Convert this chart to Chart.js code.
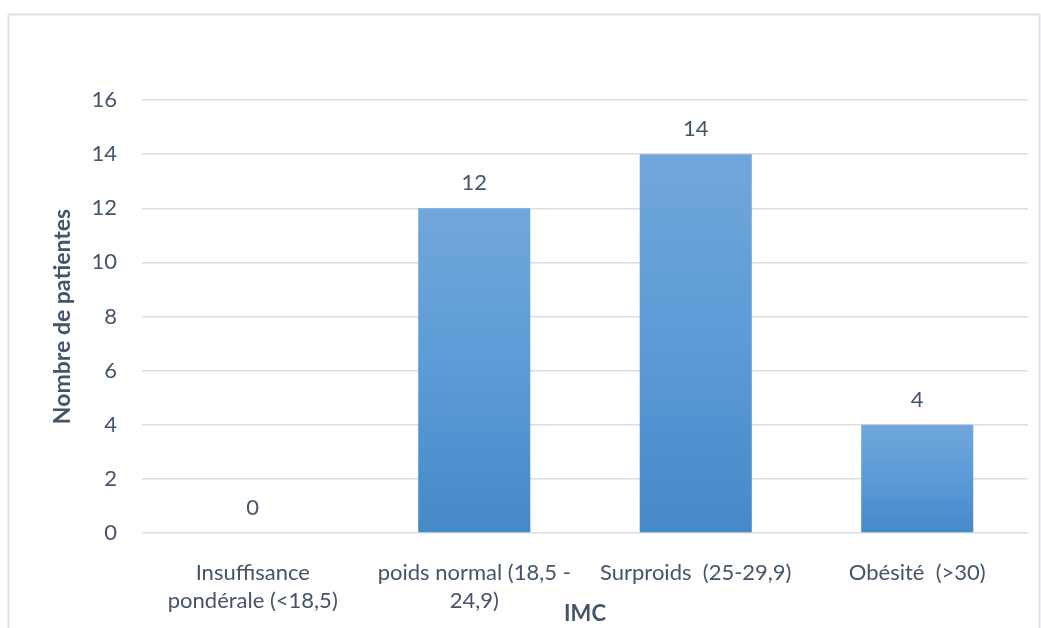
<!DOCTYPE html>
<html lang="fr">
<head>
<meta charset="utf-8">
<title>Nombre de patientes selon l'IMC</title>
<script src="https://cdn.jsdelivr.net/npm/chart.js@4/dist/chart.umd.min.js"></script>
<style>
  html, body { margin: 0; padding: 0; background: #ffffff; }
  #wrap { position: relative; width: 1041px; height: 628px; }
</style>
</head>
<body>
<div id="wrap"><canvas id="chart" width="1041" height="628"></canvas></div>
<script>
// IMC categories and number of patients in each
const categories = [
  ["Insuffisance", "pondérale (<18,5)"],
  ["poids normal (18,5 -", "24,9)"],
  ["Surproids  (25-29,9)"],
  ["Obésité  (>30)"]
];
const patients = [0, 12, 14, 4];
const yTicks = [0, 2, 4, 6, 8, 10, 12, 14, 16];

const textColor = '#44546a';
const gridColor = '#d9dee6';
const fontFamily = 'Lato, "Open Sans", sans-serif';

// Vertical gradient per bar: lighter at the top, darker at the base
function barGradient(ctx) {
  const chart = ctx.chart;
  const area = chart.chartArea;
  if (!area || ctx.type !== 'data') return '#5b9bd5';
  const y = chart.scales.y;
  const top = y.getPixelForValue(ctx.raw);
  const base = y.getPixelForValue(0);
  if (base - top < 1) return '#5b9bd5';
  const g = chart.ctx.createLinearGradient(0, top, 0, base);
  g.addColorStop(0, '#71a7db');
  g.addColorStop(0.5, '#5b9bd7');
  g.addColorStop(1, '#4589c8');
  return g;
}

// Outer frame around the chart
const framePlugin = {
  id: 'frame',
  beforeDraw(chart) {
    const c = chart.ctx;
    c.save();
    c.fillStyle = '#ffffff';
    c.fillRect(0, 0, chart.width, chart.height);
    c.strokeStyle = '#dde2ea';
    c.lineWidth = 2;
    c.strokeRect(8.5, 14.5, 1031, 700);
    c.restore();
  }
};

// Value written above each bar
const valueLabels = {
  id: 'valueLabels',
  afterDatasetsDraw(chart) {
    const c = chart.ctx;
    const meta = chart.getDatasetMeta(0);
    c.save();
    c.fillStyle = textColor;
    c.font = '22px ' + fontFamily;
    c.textAlign = 'center';
    c.textBaseline = 'middle';
    meta.data.forEach((bar, i) => {
      c.fillText(String(patients[i]), bar.x, bar.y - 25);
    });
    c.restore();
  }
};

new Chart(document.getElementById('chart'), {
  type: 'bar',
  data: {
    labels: categories,
    datasets: [{
      label: 'Nombre de patientes',
      data: patients,
      backgroundColor: barGradient,
      borderWidth: 0,
      categoryPercentage: 1,
      barPercentage: 0.506
    }]
  },
  options: {
    responsive: false,
    animation: false,
    events: [],
    layout: { padding: { left: 0, right: 13, top: 100, bottom: 0 } },
    plugins: {
      legend: { display: false },
      tooltip: { enabled: false },
      title: { display: false }
    },
    scales: {
      x: {
        grid: { display: false, drawTicks: false },
        border: { display: false },
        ticks: {
          color: textColor,
          font: { family: fontFamily, size: 22, lineHeight: 1.27 },
          padding: 26,
          maxRotation: 0,
          autoSkip: false
        },
        title: {
          display: true,
          text: 'IMC',
          color: textColor,
          font: { family: fontFamily, size: 22, weight: 'bold', lineHeight: 1.2 },
          padding: { top: 0, bottom: 1 }
        },
        afterFit(scale) { scale.height = 95; }
      },
      y: {
        min: 0,
        max: 16,
        afterBuildTicks(scale) { scale.ticks = yTicks.map(v => ({ value: v })); },
        grid: { color: gridColor, lineWidth: 1.5, drawTicks: false },
        border: { display: false },
        ticks: {
          color: textColor,
          font: { family: fontFamily, size: 22 },
          padding: 25
        },
        title: {
          display: true,
          text: 'Nombre de patientes',
          color: textColor,
          font: { family: fontFamily, size: 23, weight: 'bold', lineHeight: 1.2 },
          padding: { top: 49, bottom: 0 }
        },
        afterFit(scale) { scale.width = 142; }
      }
    }
  },
  plugins: [framePlugin, valueLabels]
});
</script>
</body>
</html>
